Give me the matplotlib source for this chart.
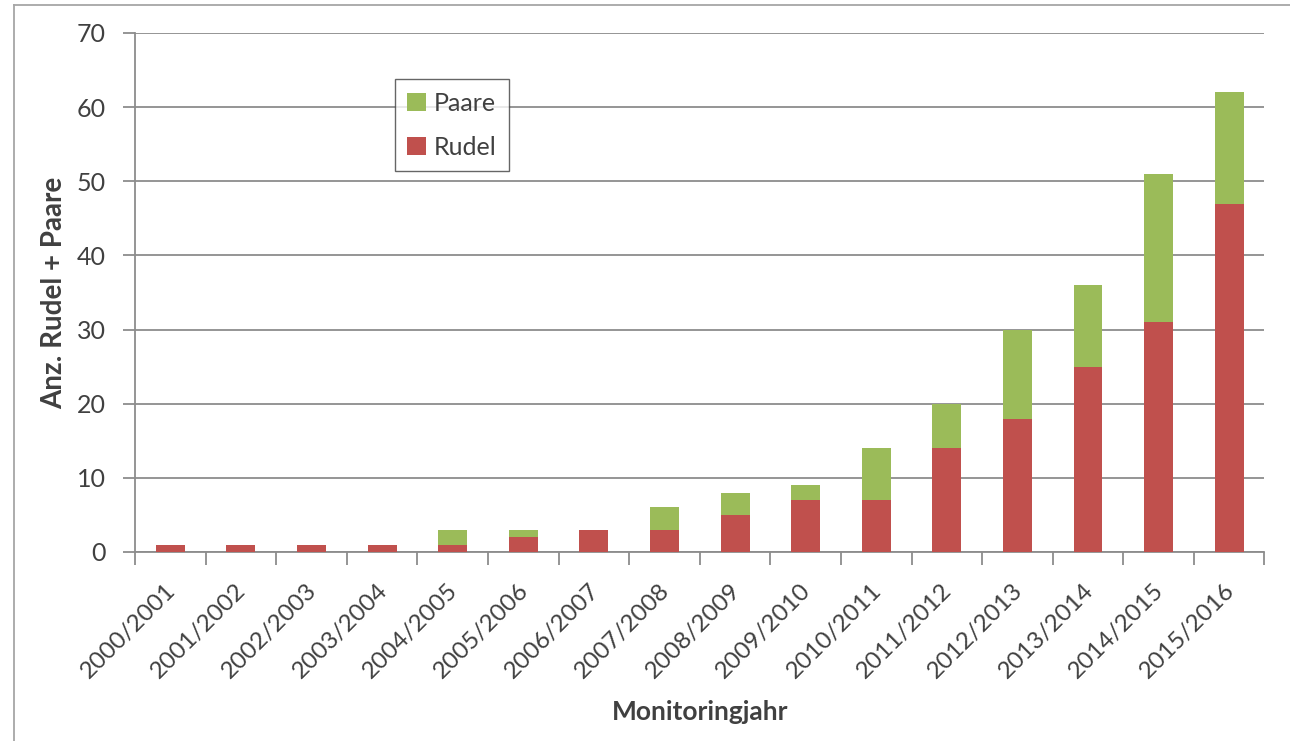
import numpy as np
import matplotlib
matplotlib.use("Agg")
import matplotlib.pyplot as plt
from matplotlib.patches import Patch
from matplotlib.lines import Line2D

# Monitoringjahre und Werte
jahre = ['2000/2001', '2001/2002', '2002/2003', '2003/2004', '2004/2005',
         '2005/2006', '2006/2007', '2007/2008', '2008/2009', '2009/2010',
         '2010/2011', '2011/2012', '2012/2013', '2013/2014', '2014/2015',
         '2015/2016']
rudel = [1, 1, 1, 1, 1, 2, 3, 3, 5, 7, 7, 14, 18, 25, 31, 47]
paare = [0, 0, 0, 0, 2, 1, 0, 3, 3, 2, 7, 6, 12, 11, 20, 15]
y_ticks = [0, 10, 20, 30, 40, 50, 60, 70]

col_rudel = '#C0504D'
col_paare = '#9BBB59'
col_grid = '#8C8C8C'
col_text = '#404040'

plt.rcParams['font.family'] = ['Lato', 'DejaVu Sans']

fig = plt.figure(figsize=(12.9, 7.41), dpi=100)
ax = fig.add_axes([0.1047, 0.2551, 0.8755, 0.7004])

x = np.arange(len(jahre))
ax.bar(x, rudel, width=0.41, color=col_rudel, zorder=3)
ax.bar(x, paare, width=0.41, bottom=rudel, color=col_paare, zorder=3)

ax.set_xlim(-0.5, len(jahre) - 0.5)
ax.set_ylim(0, 70)
ax.set_yticks(y_ticks)
ax.yaxis.grid(True, color=col_grid, linewidth=1.3, zorder=0)
ax.set_axisbelow(True)

# Ticks zwischen den Kategorien
ax.set_xticks(x - 0.08)
ax.set_xticklabels(jahre, rotation=45, ha='right', rotation_mode='anchor',
                   fontsize=17.5, color=col_text)
ax.tick_params(axis='x', length=0, pad=20)
ax.set_xticks(np.arange(-0.5, len(jahre)), minor=True)
ax.tick_params(axis='x', which='minor', length=9, width=1.3, color=col_grid)
ax.tick_params(axis='y', length=9, width=1.3, color=col_grid,
               labelsize=18, labelcolor=col_text, pad=12)

for s in ['top', 'right']:
    ax.spines[s].set_visible(False)
for s in ['left', 'bottom']:
    ax.spines[s].set_color(col_grid)
    ax.spines[s].set_linewidth(1.3)

ax.set_ylabel('Anz. Rudel + Paare', fontsize=20, fontweight='bold',
              color=col_text)
ax.yaxis.set_label_coords(-0.060, 0.5)
ax.set_xlabel('Monitoringjahr', fontsize=19, fontweight='bold',
              color=col_text, va='top')
ax.xaxis.set_label_coords(0.5, -0.285)

handles = [Patch(facecolor=col_paare, label='Paare'),
           Patch(facecolor=col_rudel, label='Rudel')]
leg = ax.legend(handles=handles, loc='upper left',
                bbox_to_anchor=(0.230, 0.911), borderaxespad=0,
                fontsize=18, frameon=True,
                fancybox=False, edgecolor='#404040', handlelength=0.75,
                handleheight=0.75, handletextpad=0.3, labelspacing=0.85,
                borderpad=0.5, labelcolor=col_text)
leg.get_frame().set_linewidth(1.0)

# äusserer Rahmen (nur links und oben sichtbar)
fig.add_artist(Line2D([0.0105, 1.0], [0.993, 0.993], color='#A6A6A6',
                      linewidth=1.3, transform=fig.transFigure))
fig.add_artist(Line2D([0.0105, 0.0105], [0.0, 0.993], color='#A6A6A6',
                      linewidth=1.3, transform=fig.transFigure))

fig.savefig('out.png', dpi=100)
